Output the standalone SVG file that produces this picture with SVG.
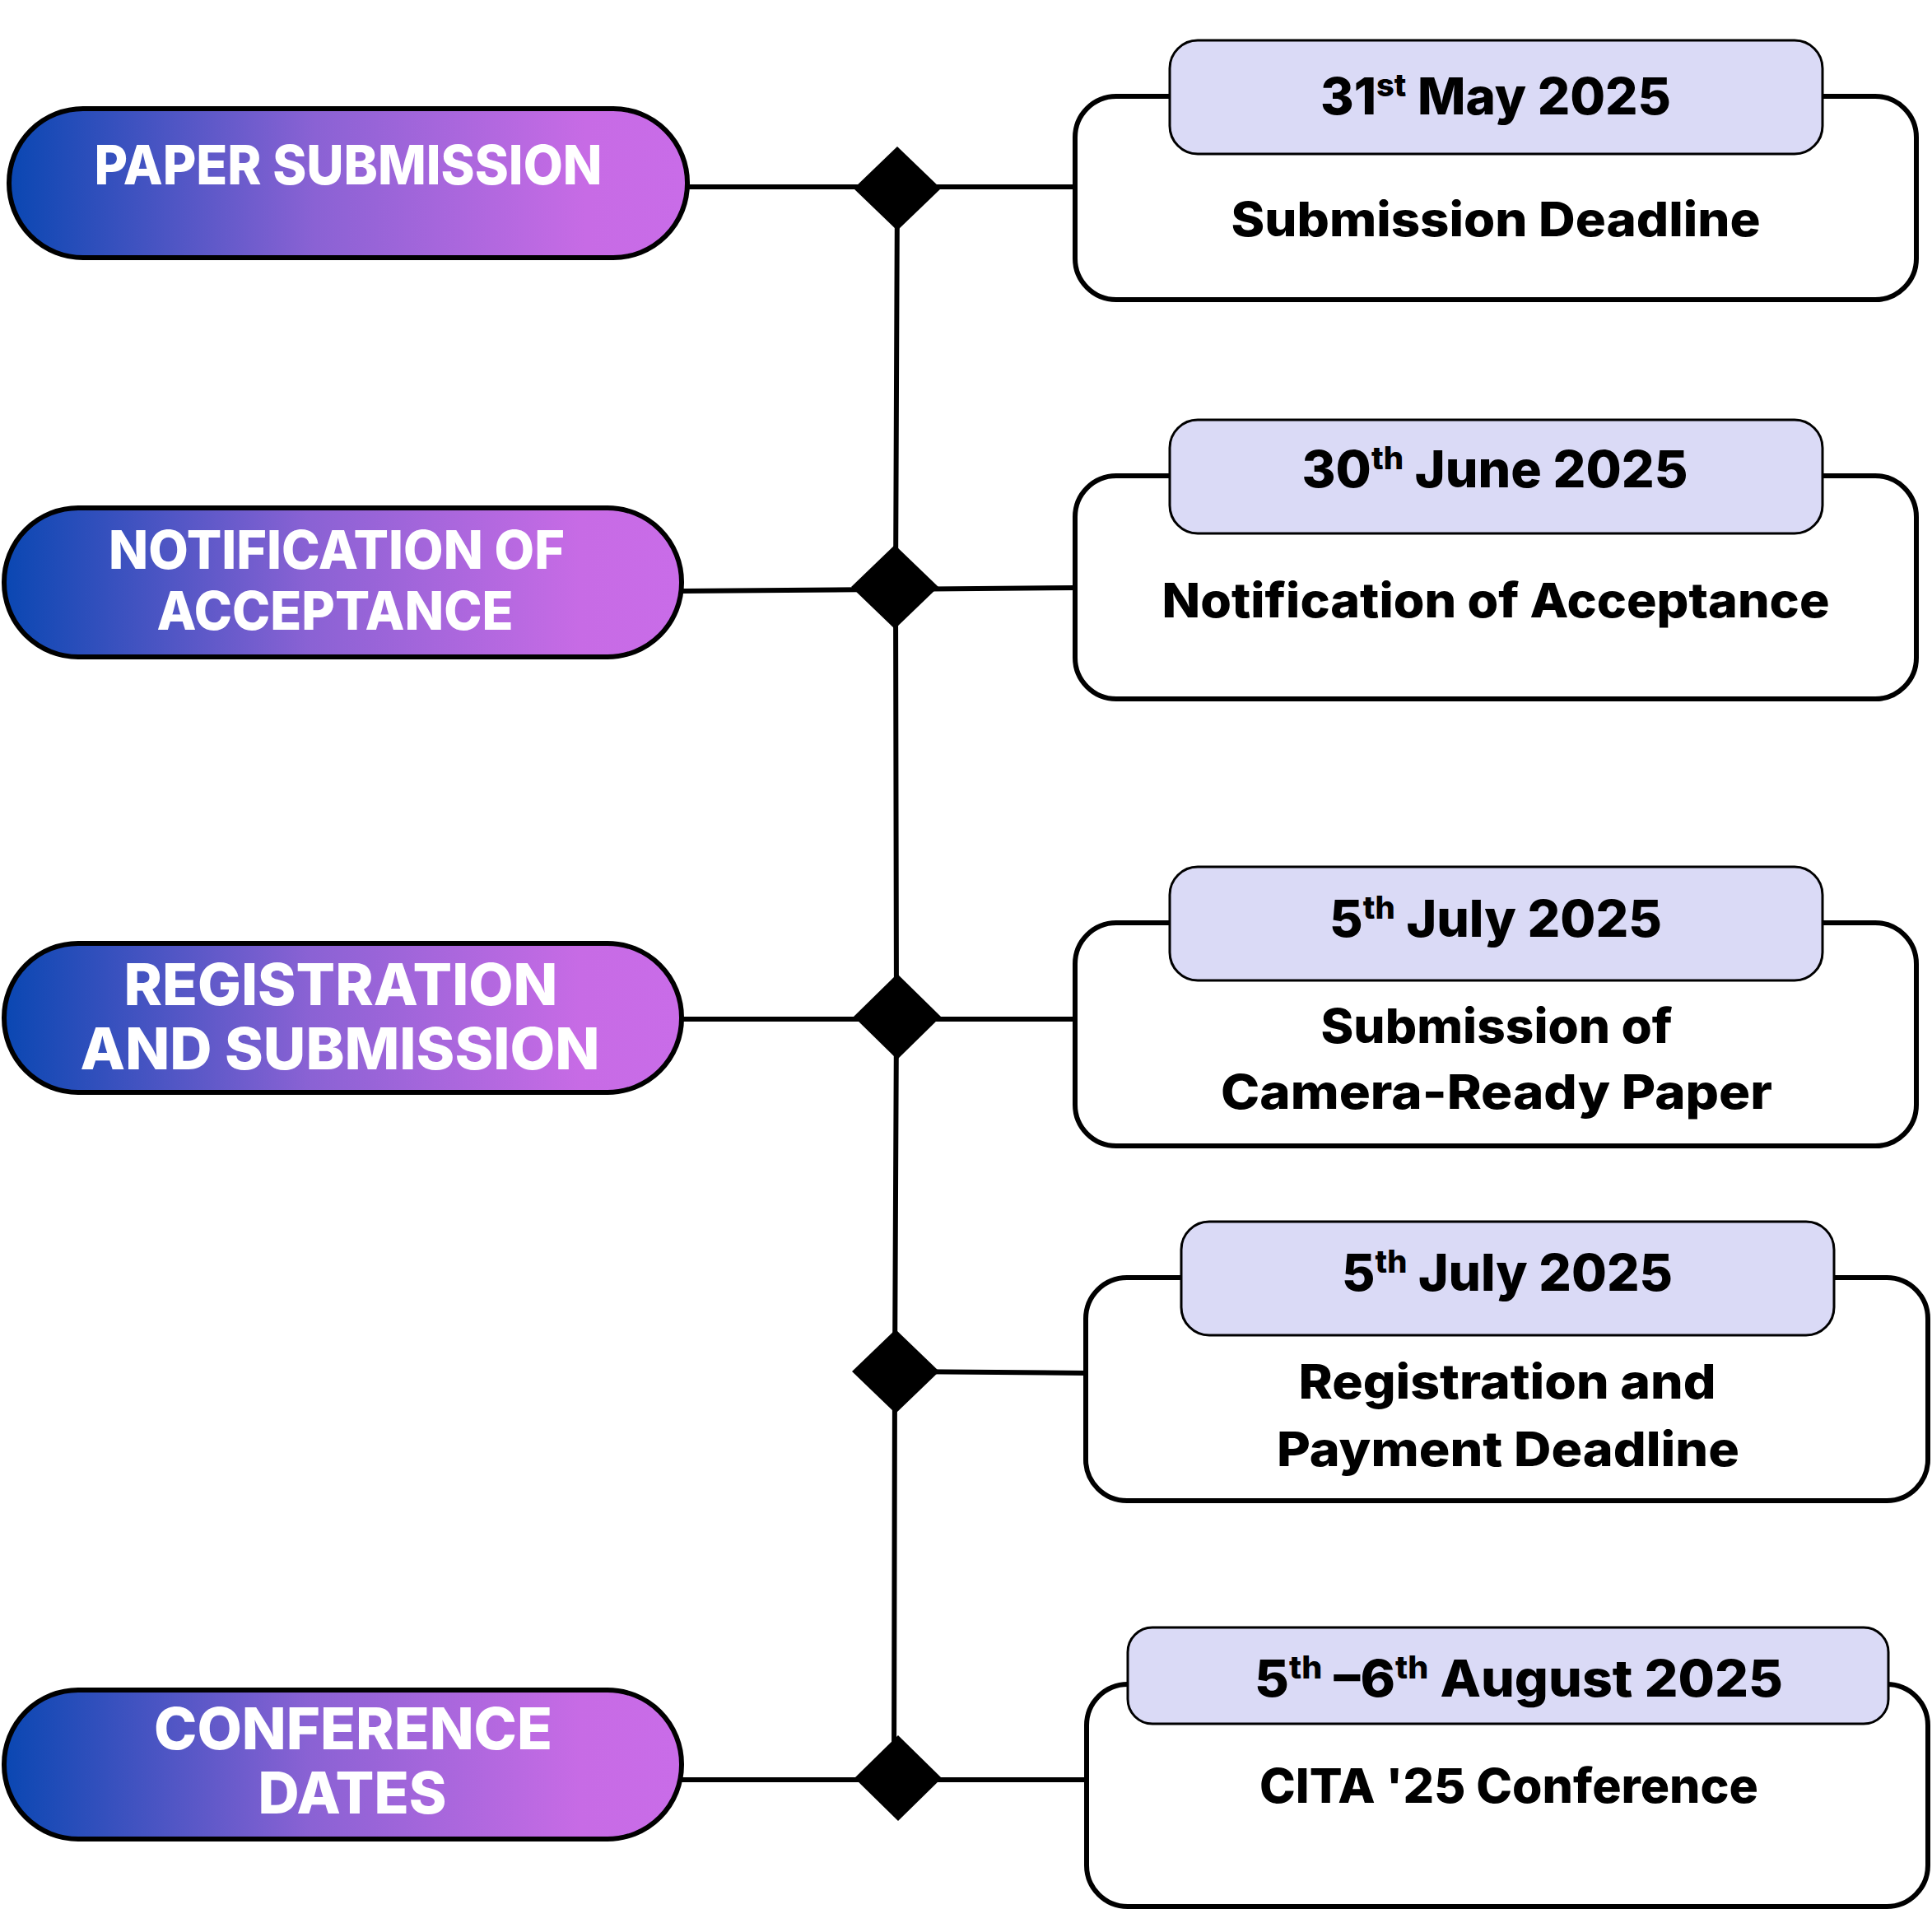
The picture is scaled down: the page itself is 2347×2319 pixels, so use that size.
<svg xmlns="http://www.w3.org/2000/svg" width="2347" height="2319" viewBox="0 0 2347 2319">
<defs>
<linearGradient id="pillGrad" x1="0" y1="0" x2="1" y2="0">
<stop offset="0" stop-color="#0A47B2"/>
<stop offset="0.45" stop-color="#8A62D4"/>
<stop offset="0.85" stop-color="#C76BE5"/>
<stop offset="1" stop-color="#C96CE8"/>
</linearGradient>
<style>
.pill{fill:url(#pillGrad);stroke:#000;stroke-width:6}
.ptxt{font-family:Inter,"Open Sans","Liberation Sans",sans-serif;font-weight:800;fill:#fff;text-anchor:middle}
.box{fill:#fff;stroke:#000;stroke-width:6}
.tab{fill:#DADAF6;stroke:#000;stroke-width:3}
.date{font-family:Inter,"Open Sans","Liberation Sans",sans-serif;font-weight:800;font-size:62px;fill:#000;text-anchor:middle}
.body{font-family:Inter,"Open Sans","Liberation Sans",sans-serif;font-weight:800;font-size:58px;fill:#000;text-anchor:middle}
.conn{stroke:#000;stroke-width:6;fill:none}
.dia{fill:#000}
</style>
</defs>
<rect width="2347" height="2319" fill="#fff"/>

<g id="connectors">
<line class="conn" x1="835" y1="227" x2="1306" y2="227"/>
<line class="conn" x1="828" y1="718" x2="1306" y2="714"/>
<line class="conn" x1="828" y1="1238" x2="1306" y2="1238"/>
<line class="conn" x1="1088" y1="1666" x2="1320" y2="1668"/>
<line class="conn" x1="828" y1="2162" x2="1320" y2="2162"/>
<polyline class="conn" points="1090,229 1088,713 1089,1235 1087,1666 1086,2160"/>
</g>

<g id="junctions">
<polygon class="dia" points="1090,178 1143,229 1090,280 1037,229"/>
<polygon class="dia" points="1087,662 1140,713 1087,764 1034,713"/>
<polygon class="dia" points="1090,1183 1143,1235 1090,1287 1037,1235"/>
<polygon class="dia" points="1088,1615 1141,1666 1088,1717 1035,1666"/>
<polygon class="dia" points="1091,2108 1144,2160 1091,2212 1038,2160"/>
</g>

<g id="pill-paper-submission">
<rect class="pill" x="11" y="132" width="824" height="181" rx="90" ry="90"/>
<text class="ptxt" x="423" y="224" font-size="66" textLength="617" lengthAdjust="spacingAndGlyphs">PAPER SUBMISSION</text>
</g>

<g id="pill-notification">
<rect class="pill" x="5" y="617" width="823" height="181" rx="90" ry="90"/>
<text class="ptxt" x="409" y="691" font-size="64" textLength="554" lengthAdjust="spacingAndGlyphs">NOTIFICATION OF</text>
<text class="ptxt" x="407" y="765" font-size="64" textLength="433" lengthAdjust="spacingAndGlyphs">ACCEPTANCE</text>
</g>

<g id="pill-registration">
<rect class="pill" x="5" y="1146" width="823" height="181" rx="90" ry="90"/>
<text class="ptxt" x="414" y="1221" font-size="70" textLength="527" lengthAdjust="spacingAndGlyphs">REGISTRATION</text>
<text class="ptxt" x="413" y="1299" font-size="70" textLength="631" lengthAdjust="spacingAndGlyphs">AND SUBMISSION</text>
</g>

<g id="pill-conference">
<rect class="pill" x="5" y="2053" width="823" height="181" rx="90" ry="90"/>
<text class="ptxt" x="429" y="2125" font-size="70" textLength="484" lengthAdjust="spacingAndGlyphs">CONFERENCE</text>
<text class="ptxt" x="428" y="2203" font-size="70" textLength="229" lengthAdjust="spacingAndGlyphs">DATES</text>
</g>

<g id="box-submission-deadline">
<rect class="box" x="1306" y="117" width="1022" height="247" rx="50" ry="50"/>
<rect class="tab" x="1421" y="49" width="793" height="138" rx="34" ry="34"/>
<text class="date" x="1817" y="139" textLength="426" lengthAdjust="spacingAndGlyphs">31<tspan font-size="38" dy="-22">st</tspan><tspan dy="22"> May 2025</tspan></text>
<text class="body" x="1817" y="287" textLength="643" lengthAdjust="spacingAndGlyphs">Submission Deadline</text>
</g>

<g id="box-notification">
<rect class="box" x="1306" y="578" width="1022" height="271" rx="50" ry="50"/>
<rect class="tab" x="1421" y="510" width="793" height="138" rx="34" ry="34"/>
<text class="date" x="1816" y="592" textLength="469" lengthAdjust="spacingAndGlyphs">30<tspan font-size="38" dy="-22">th</tspan><tspan dy="22"> June 2025</tspan></text>
<text class="body" x="1817" y="750" textLength="811" lengthAdjust="spacingAndGlyphs">Notification of Acceptance</text>
</g>

<g id="box-camera-ready">
<rect class="box" x="1306" y="1121" width="1022" height="271" rx="50" ry="50"/>
<rect class="tab" x="1421" y="1053" width="793" height="138" rx="34" ry="34"/>
<text class="date" x="1817" y="1138" textLength="404" lengthAdjust="spacingAndGlyphs">5<tspan font-size="38" dy="-22">th</tspan><tspan dy="22"> July 2025</tspan></text>
<text class="body" x="1818" y="1267" textLength="427" lengthAdjust="spacingAndGlyphs">Submission of</text>
<text class="body" x="1818" y="1347" textLength="670" lengthAdjust="spacingAndGlyphs">Camera-Ready Paper</text>
</g>

<g id="box-registration-payment">
<rect class="box" x="1319" y="1552" width="1023" height="271" rx="50" ry="50"/>
<rect class="tab" x="1435" y="1484" width="793" height="138" rx="34" ry="34"/>
<text class="date" x="1831" y="1568" textLength="402" lengthAdjust="spacingAndGlyphs">5<tspan font-size="38" dy="-22">th</tspan><tspan dy="22"> July 2025</tspan></text>
<text class="body" x="1831" y="1699" textLength="507" lengthAdjust="spacingAndGlyphs">Registration and</text>
<text class="body" x="1832" y="1781" textLength="562" lengthAdjust="spacingAndGlyphs">Payment Deadline</text>
</g>

<g id="box-conference">
<rect class="box" x="1320" y="2046" width="1022" height="270" rx="50" ry="50"/>
<rect class="tab" x="1370" y="1977" width="924" height="117" rx="30" ry="30"/>
<text class="date" x="1845" y="2061" textLength="642" lengthAdjust="spacingAndGlyphs">5<tspan font-size="38" dy="-22">th</tspan><tspan dy="22"> –6</tspan><tspan font-size="38" dy="-22">th</tspan><tspan dy="22"> August 2025</tspan></text>
<text class="body" x="1833" y="2190" textLength="606" lengthAdjust="spacingAndGlyphs">CITA '25 Conference</text>
</g>
</svg>
